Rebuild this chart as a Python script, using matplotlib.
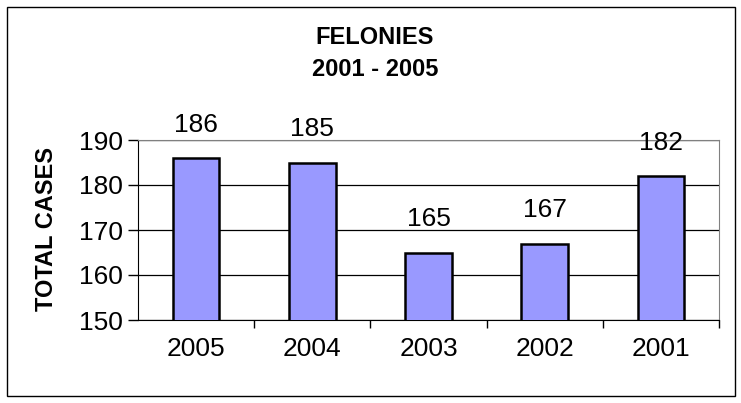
import matplotlib
matplotlib.use("Agg")
import matplotlib.pyplot as plt
from matplotlib.patches import Rectangle

years = ["2005", "2004", "2003", "2002", "2001"]
cases = [186, 185, 165, 167, 182]
y_ticks = [150, 160, 170, 180, 190]

W, H = 741, 403
plt.rcParams["font.family"] = ["Liberation Sans", "DejaVu Sans"]
fig = plt.figure(figsize=(W / 100, H / 100), dpi=100)

# outer chart border
fig.patches.append(Rectangle((7 / W, 7 / H), 728 / W, 389 / H, transform=fig.transFigure,
                             fill=False, edgecolor="black", lw=1.0))

ax = fig.add_axes([138 / W, 1 - 320 / H, (719 - 138) / W, (320 - 140) / H])
x = range(len(years))
ax.bar(x, cases, width=0.40, color="#9999ff", edgecolor="black", lw=1.8, zorder=3)
ax.set_xlim(-0.5, len(years) - 0.5)
ax.set_ylim(150, 190)
ax.set_yticks(y_ticks)
ax.set_xticks(x)
ax.set_xticklabels(years, fontsize=19)
ax.tick_params(axis="y", labelsize=19, length=7, width=1, direction="out", pad=4)
ax.tick_params(axis="x", length=0, pad=12)
# category separators on x axis
ax.set_xticks([i + 0.5 for i in range(len(years))], minor=True)
ax.tick_params(axis="x", which="minor", length=6, width=1, direction="out")
ax.yaxis.grid(True, color="black", lw=0.9, zorder=0)
for s in ("top", "right"):
    ax.spines[s].set_color("#808080")
for s in ("left", "bottom"):
    ax.spines[s].set_color("black")

for i, v in enumerate(cases):
    ax.text(i, v + 7.4, str(v), ha="center", va="center", fontsize=19, clip_on=False)

fig.text(47 / W, 1 - 229 / H, "TOTAL CASES", rotation=90, ha="center", va="center",
         fontsize=17, fontweight="bold")
fig.text(375 / W, 1 - 37 / H, "FELONIES", ha="center", va="center", fontsize=17, fontweight="bold")
fig.text(375 / W, 1 - 70 / H, "2001 - 2005", ha="center", va="center", fontsize=17, fontweight="bold")

fig.savefig("out.png", dpi=100)
